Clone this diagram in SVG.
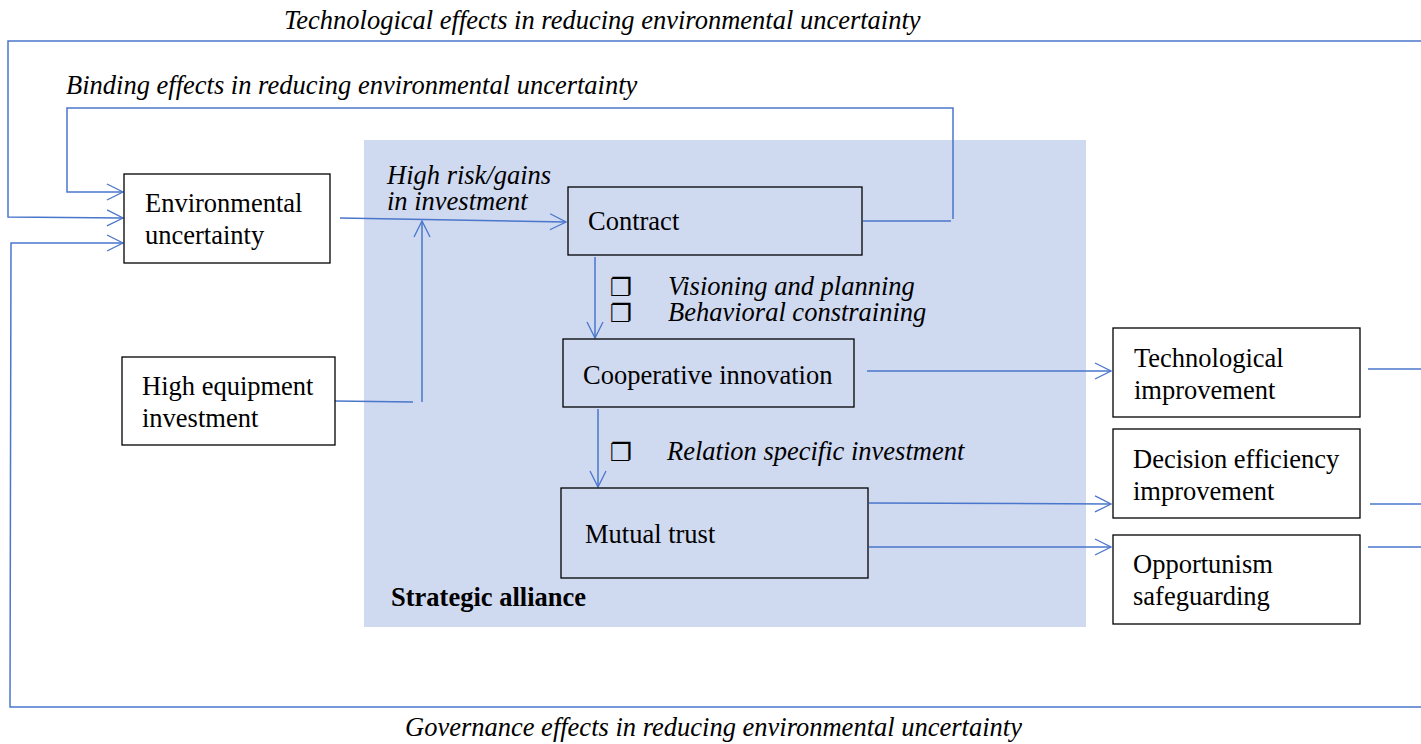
<svg xmlns="http://www.w3.org/2000/svg" width="1421" height="744" viewBox="0 0 1421 744">
<style>
.t{font-family:"Liberation Serif","Times New Roman",serif;font-size:26.5px;fill:#000}
.i{font-style:italic}
.b{font-weight:bold}
.box{fill:#fff;stroke:#000;stroke-width:1.3}
.abox{fill:none;stroke:#000;stroke-width:1.3}
.ln{fill:none;stroke:#4a76cc;stroke-width:1.5}
.bul{font-family:"DejaVu Sans",sans-serif;font-size:25px;fill:#000}
</style>
<defs>
<marker id="ah" viewBox="0 0 20 20" refX="18" refY="10" markerWidth="20" markerHeight="20" markerUnits="userSpaceOnUse" orient="auto">
<path d="M2,2 L18,10 L2,18" fill="none" stroke="#4a76cc" stroke-width="1.3"/>
</marker>
</defs>
<rect id="alliance" x="364" y="140" width="722" height="487" fill="#cfd9f0"/>
<g id="connectors">
<polyline class="ln" points="1421,41 8,41 8,217 123,218" marker-end="url(#ah)"/>
<polyline class="ln" points="953,219 953,108 67,108 67,192 123,192" marker-end="url(#ah)"/>
<line class="ln" x1="863" y1="221" x2="951" y2="221"/>
<polyline class="ln" points="1421,707 10,707 11,243 123,243" marker-end="url(#ah)"/>
<line class="ln" x1="340" y1="218" x2="566" y2="222" marker-end="url(#ah)"/>
<polyline class="ln" points="335,401 413,402"/>
<line class="ln" x1="422" y1="402" x2="422" y2="221" marker-end="url(#ah)"/>
<line class="ln" x1="595" y1="257" x2="595" y2="338" marker-end="url(#ah)"/>
<line class="ln" x1="598" y1="409" x2="598" y2="487" marker-end="url(#ah)"/>
<line class="ln" x1="867" y1="371" x2="1111" y2="371" marker-end="url(#ah)"/>
<line class="ln" x1="869" y1="503" x2="1111" y2="504" marker-end="url(#ah)"/>
<line class="ln" x1="869" y1="547" x2="1111" y2="547" marker-end="url(#ah)"/>
<line class="ln" x1="1368" y1="369" x2="1421" y2="369"/>
<line class="ln" x1="1370" y1="504" x2="1421" y2="504"/>
<line class="ln" x1="1368" y1="547" x2="1421" y2="547"/>
</g>
<g id="labels">
<text class="t i" x="284" y="29">Technological effects in reducing environmental uncertainty</text>
<text class="t i" x="66" y="94">Binding effects in reducing environmental uncertainty</text>
<text class="t i" x="405" y="736">Governance effects in reducing environmental uncertainty</text>
<text class="t i" x="387" y="184">High risk/gains</text>
<text class="t i" x="387" y="210">in investment</text>
<text class="bul" x="610" y="296">❐</text>
<text class="bul" x="610" y="322">❐</text>
<text class="t i" x="668" y="295">Visioning and planning</text>
<text class="t i" x="668" y="321">Behavioral constraining</text>
<text class="bul" x="610" y="461">❐</text>
<text class="t i" x="667" y="460">Relation specific investment</text>
<text class="t b" x="391" y="606">Strategic alliance</text>
</g>
<g id="env">
<rect class="box" x="124" y="174" width="206" height="89"/>
<text class="t" x="145" y="212">Environmental</text>
<text class="t" x="145" y="244">uncertainty</text>
</g>
<g id="equip">
<rect class="box" x="122" y="357" width="213" height="88"/>
<text class="t" x="142" y="395">High equipment</text>
<text class="t" x="142" y="427">investment</text>
</g>
<g id="contract">
<rect class="abox" x="568" y="187" width="294" height="68"/>
<text class="t" x="588" y="230">Contract</text>
</g>
<g id="coop">
<rect class="abox" x="563" y="339" width="291" height="68"/>
<text class="t" x="583" y="384">Cooperative innovation</text>
</g>
<g id="trust">
<rect class="abox" x="561" y="488" width="307" height="90"/>
<text class="t" x="585" y="543">Mutual trust</text>
</g>
<g id="tech">
<rect class="box" x="1113" y="328" width="247" height="89"/>
<text class="t" x="1134" y="367">Technological</text>
<text class="t" x="1134" y="399">improvement</text>
</g>
<g id="decision">
<rect class="box" x="1113" y="429" width="247" height="89"/>
<text class="t" x="1133" y="468">Decision efficiency</text>
<text class="t" x="1133" y="500">improvement</text>
</g>
<g id="opp">
<rect class="box" x="1113" y="535" width="247" height="89"/>
<text class="t" x="1133" y="573">Opportunism</text>
<text class="t" x="1133" y="605">safeguarding</text>
</g>
</svg>
